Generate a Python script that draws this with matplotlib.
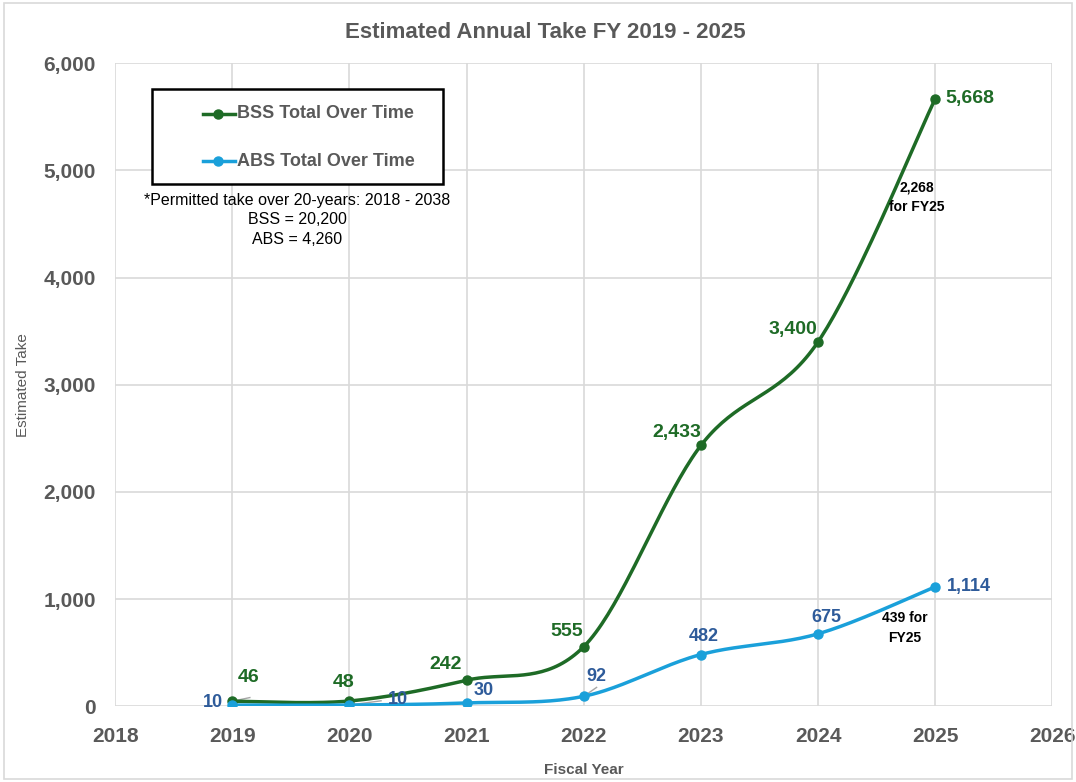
import matplotlib.pyplot as plt
import numpy as np
from matplotlib.patches import Rectangle
from matplotlib.lines import Line2D

years = [2019, 2020, 2021, 2022, 2023, 2024, 2025]
bss = [46, 48, 242, 555, 2433, 3400, 5668]
abs_take = [10, 10, 30, 92, 482, 675, 1114]

green = '#1E6B26'
blue = '#1AA0DA'
dblue = '#2E5B9A'
gray = '#595959'

plt.rcParams['font.family'] = ['Liberation Sans', 'DejaVu Sans']

fig = plt.figure(figsize=(10.76, 7.82), dpi=100)
ax = fig.add_axes([0.107, 0.097, 0.871, 0.822])
ax.set_xlim(2018, 2026)
ax.set_ylim(0, 6000)

W = 0.871 * 1076
H = 0.822 * 782


def smooth(xs, ys, n=40):
    # Excel-ish smoothed line: bezier with catmull-rom control points (in pixel space)
    px = (np.array(xs) - 2018) / 8 * W
    py = np.array(ys) / 6000 * H
    P = np.column_stack([px, py])
    P = np.vstack([P[0], P, P[-1]])
    out = []
    for i in range(1, len(P) - 2):
        p0, p1, p2, p3 = P[i - 1], P[i], P[i + 1], P[i + 2]
        c1 = p1 + (p2 - p0) / 6
        c2 = p2 - (p3 - p1) / 6
        t = np.linspace(0, 1, n)[:, None]
        seg = (1 - t) ** 3 * p1 + 3 * (1 - t) ** 2 * t * c1 + 3 * (1 - t) * t ** 2 * c2 + t ** 3 * p2
        out.append(seg)
    out = np.vstack(out)
    return out[:, 0] / W * 8 + 2018, out[:, 1] / H * 6000


sx, sy = smooth(years, bss)
ax.plot(sx, sy, color=green, lw=2.5, zorder=3)
ax.plot(years, bss, 'o', color=green, ms=6.5, zorder=4)
sx, sy = smooth(years, abs_take)
ax.plot(sx, sy, color=blue, lw=2.5, zorder=3)
ax.plot(years, abs_take, 'o', color=blue, ms=6.5, zorder=4)

ax.grid(True, color='#D9D9D9', lw=1.2)
ax.set_axisbelow(True)
for s in ax.spines.values():
    s.set_visible(False)
ax.tick_params(axis='x', length=0, labelsize=15, labelcolor=gray, pad=15)
ax.tick_params(axis='y', length=0, labelsize=15, labelcolor=gray, pad=14)
ax.set_xticks(range(2018, 2027))
ax.set_yticks(range(0, 6001, 1000))
ax.set_yticklabels([f'{v:,}' for v in range(0, 6001, 1000)])
for lab in ax.get_xticklabels() + ax.get_yticklabels():
    lab.set_fontweight('bold')
ax.set_xlabel('Fiscal Year', fontsize=11, fontweight='bold', color=gray)
ax.set_ylabel('Estimated Take', fontsize=11, color=gray)
ax.xaxis.set_label_coords(0.5, -0.089)
ax.yaxis.set_label_coords(-0.091, 0.5)

fig.text(0.507, 0.958, 'Estimated Annual Take FY 2019 - 2025', ha='center', va='center',
         fontsize=16, fontweight='bold', color=gray)

# data labels (offsets in points)
bss_off = [(12, 17), (-4, 13), (-15, 11), (-12, 11), (-17, 9), (-18, 9), (25, 0)]
abs_off = [(-14, 2), (35, 4), (12, 9), (9, 14), (2, 13), (6, 12), (24, 0)]
for i, (x, y) in enumerate(zip(years, bss)):
    dx, dy = bss_off[i]
    ax.annotate(f'{y:,}', (x, y), xytext=(dx, dy), textcoords='offset points',
                ha='center', va='center', fontsize=14, fontweight='bold', color=green, zorder=5)
for i, (x, y) in enumerate(zip(years, abs_take)):
    dx, dy = abs_off[i]
    ax.annotate(f'{y:,}', (x, y), xytext=(dx, dy), textcoords='offset points',
                ha='center', va='center', fontsize=13, fontweight='bold', color=dblue, zorder=5)

# leader lines
for x, y, x2, y2 in [(2019, 46, 2019.15, 80), (2020, 10, 2020.27, 50), (2022, 92, 2022.11, 175)]:
    ax.plot([x, x2], [y, y2], color='#A6A6A6', lw=1, zorder=2)

ax.text(2024.84, 4750, '2,268\nfor FY25', ha='center', va='center', fontsize=10,
        fontweight='bold', color='black', linespacing=1.5)
ax.text(2024.74, 730, '439 for\nFY25', ha='center', va='center', fontsize=10,
        fontweight='bold', color='black', linespacing=1.5)

# legend box
fig.patches.append(Rectangle((152 / 1076, 1 - 184 / 782), 291 / 1076, 95 / 782,
                             transform=fig.transFigure, fill=True, facecolor='white',
                             edgecolor='black', lw=1.8, zorder=5))
for yy, col, txt in [(114, green, 'BSS Total Over Time'), (161, blue, 'ABS Total Over Time')]:
    fy = 1 - yy / 782
    fig.lines.append(Line2D([203 / 1076, 235 / 1076], [fy, fy], color=col, lw=2.5,
                            transform=fig.transFigure, zorder=6))
    fig.lines.append(Line2D([218 / 1076], [fy], color=col, marker='o', ms=6.5,
                            transform=fig.transFigure, zorder=6))
    fig.text(237 / 1076, fy, txt, ha='left', va='center', fontsize=13, fontweight='bold',
             color=gray, zorder=7)

fig.text(297 / 1076, 1 - 220 / 782, '*Permitted take over 20-years: 2018 - 2038\nBSS = 20,200\nABS = 4,260',
         ha='center', va='center', fontsize=11.5, color='black', linespacing=1.4)

# outer chart border
fig.patches.append(Rectangle((0.004, 0.004), 0.992, 0.992, transform=fig.transFigure,
                             fill=False, edgecolor='#D9D9D9', lw=1.2))

fig.savefig('out.png', dpi=100, facecolor='white')
